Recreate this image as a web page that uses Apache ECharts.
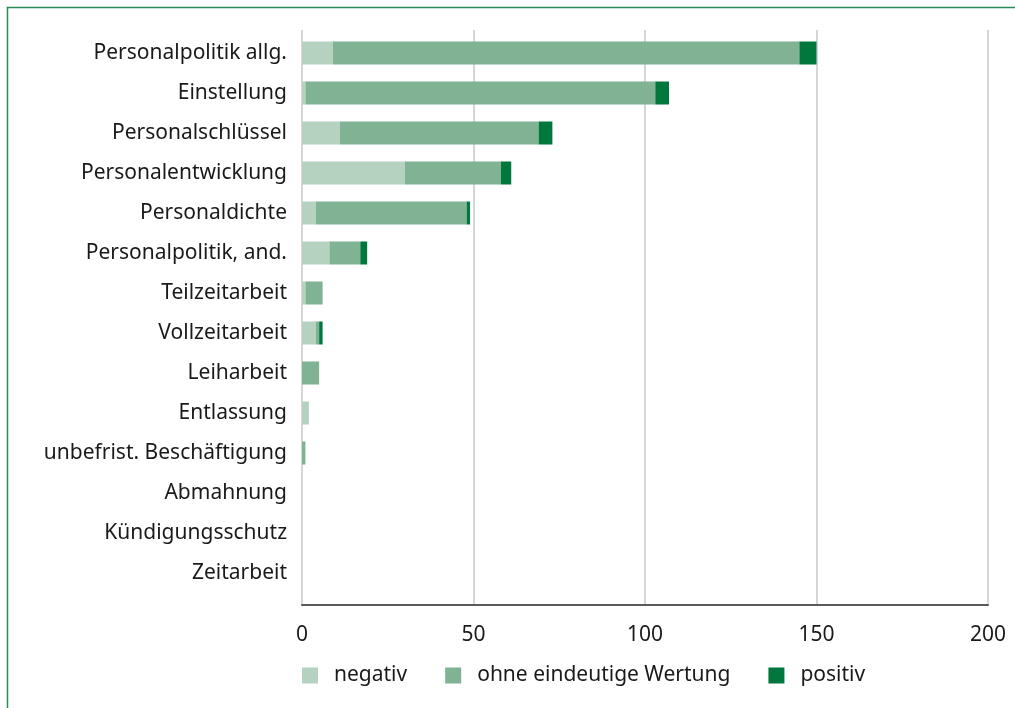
<!DOCTYPE html>
<html>
<head>
<meta charset="utf-8">
<script src="https://cdn.jsdelivr.net/npm/echarts@6/dist/echarts.min.js"></script>
<style>
  html, body { margin: 0; padding: 0; background: #fff; }
  #container { width: 1015px; height: 708px; }
</style>
</head>
<body>
<div id="container"></div>
<script>
// categories top to bottom
var categories = ['Personalpolitik allg.', 'Einstellung', 'Personalschlüssel', 'Personalentwicklung',
    'Personaldichte', 'Personalpolitik, and.', 'Teilzeitarbeit', 'Vollzeitarbeit', 'Leiharbeit',
    'Entlassung', 'unbefrist. Beschäftigung', 'Abmahnung', 'Kündigungsschutz', 'Zeitarbeit'];
var negativ = [9, 1, 11, 30, 4, 8, 1, 4, 0, 2, 0, 0, 0, 0];
var neutral = [136, 102, 58, 28, 44, 9, 5, 1, 5, 0, 1, 0, 0, 0];
var positiv = [5, 4, 4, 3, 1, 2, 0, 1, 0, 0, 0, 0, 0, 0];
var seriesNames = ['negativ', 'ohne eindeutige Wertung', 'positiv'];
var colors = ['#b4d2bf', '#7fb393', '#00773d'];
var xTicks = [0, 50, 100, 150, 200];

var fontName = 'Noto Sans';
var fontSize = 21;
var chart = echarts.init(document.getElementById('container'));

var values = [negativ, neutral, positiv];
var series = seriesNames.map(function (name, i) {
    return {
        name: name,
        type: 'bar',
        stack: 'total',
        xAxisIndex: 1,
        yAxisIndex: 1,
        barWidth: 23,
        itemStyle: { color: colors[i] },
        data: values[i]
    };
});

var option = {
    animation: false,
    textStyle: { fontFamily: fontName },
    color: colors,
    graphic: [{
        type: 'polyline',
        shape: { points: [[7.5, 708], [7.5, 7.5], [1015, 7.5]] },
        style: { stroke: '#2a8a58', lineWidth: 1.5, fill: null }
    }],
    legend: {
        left: 302,
        top: 665,
        padding: 0,
        itemWidth: 16,
        itemHeight: 16,
        itemGap: 38,
        icon: 'rect',
        data: seriesNames,
        textStyle: { fontFamily: fontName, fontSize: fontSize, color: '#1a1a1a', padding: [0, 0, 0, 11] }
    },
    grid: [
        { left: 302, right: 27, top: 30, bottom: 103 },
        { left: 302, right: 27, top: 33, bottom: 115 }
    ],
    xAxis: [{
        gridIndex: 0,
        type: 'value',
        min: xTicks[0],
        max: xTicks[xTicks.length - 1],
        interval: 50,
        axisLine: { show: true, lineStyle: { color: '#5a5a5a', width: 2 } },
        axisTick: { show: false },
        axisLabel: { fontFamily: fontName, fontSize: fontSize, color: '#1a1a1a', margin: 20 },
        splitLine: { show: true, lineStyle: { color: '#d6d6d6', width: 2 } }
    }, {
        gridIndex: 1,
        type: 'value',
        min: 0,
        max: 200,
        show: false,
        splitLine: { show: false }
    }],
    yAxis: [{
        gridIndex: 0,
        type: 'value',
        show: false,
        splitLine: { show: false }
    }, {
        gridIndex: 1,
        type: 'category',
        inverse: true,
        data: categories,
        axisLine: { show: false },
        axisTick: { show: false },
        axisLabel: { fontFamily: fontName, fontSize: fontSize, color: '#1a1a1a', margin: 15 }
    }],
    series: series
};
chart.setOption(option);
</script>
</body>
</html>
